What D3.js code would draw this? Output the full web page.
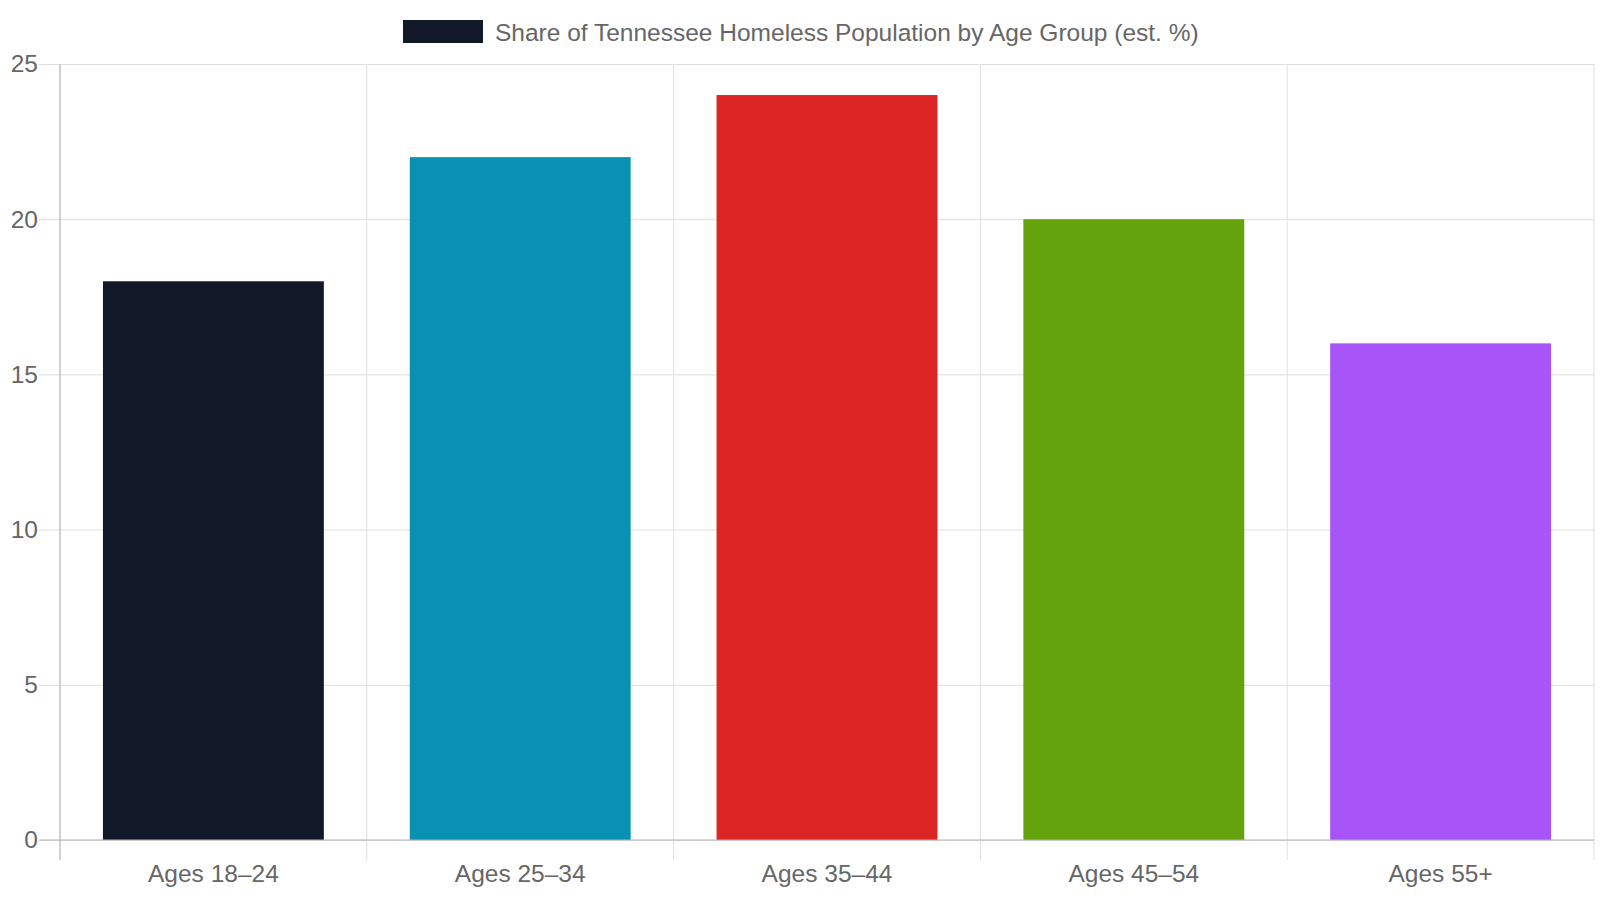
<!DOCTYPE html>
<html>
<head>
<meta charset="utf-8">
<script src="https://cdn.jsdelivr.net/npm/d3@7"></script>
<style>
  html, body { margin: 0; padding: 0; background: #fff; }
  svg { display: block; font-family: 'Liberation Sans', Arial, sans-serif; }
</style>
</head>
<body>
<div id="chart"></div>
<script>
const categories = ['Ages 18–24', 'Ages 25–34', 'Ages 35–44', 'Ages 45–54', 'Ages 55+'];
const values = [18, 22, 24, 20, 16];
const barColors = ['#111827', '#0891b2', '#dc2626', '#65a30d', '#a855f7'];
const yTicks = [0, 5, 10, 15, 20, 25];
const seriesLabel = 'Share of Tennessee Homeless Population by Age Group (est. %)';

const svgWidth = 1600;
const svgHeight = 900;
const margin = {top: 64, right: 6, bottom: 60, left: 60};
const width = svgWidth - margin.left - margin.right;
const height = svgHeight - margin.top - margin.bottom;
const textColor = '#666';
const gridColor = '#dfdfdf';
const axisColor = '#b3b3b3';
const fontSize = '24.5px';

const svg = d3.select('#chart').append('svg')
  .attr('width', svgWidth)
  .attr('height', svgHeight);

const g = svg.append('g')
  .attr('transform', `translate(${margin.left},${margin.top})`);

const xScale = d3.scaleBand()
  .domain(categories)
  .range([0, width]);

const yScale = d3.scaleLinear()
  .domain([0, 25])
  .range([height, 0]);

// horizontal grid + y ticks
const yAxis = d3.axisLeft(yScale)
  .tickValues(yTicks)
  .tickSize(-width)
  .tickPadding(2);
const yg = g.append('g').call(yAxis);
yg.select('.domain').remove();
yg.selectAll('.tick line')
  .attr('stroke', gridColor)
  .attr('x1', -21);
yg.selectAll('.tick text')
  .attr('x', -22)
  .attr('fill', textColor)
  .style('font-size', fontSize)
  .style('font-family', "'Liberation Sans', Arial, sans-serif");

// vertical grid lines on category boundaries
const bounds = categories.map(c => xScale(c)).concat([width]);
g.append('g').selectAll('line')
  .data(bounds)
  .enter().append('line')
  .attr('x1', d => d).attr('x2', d => d)
  .attr('y1', 0).attr('y2', height + 20)
  .attr('stroke', gridColor);

// bars
const inner = 0.72;
g.selectAll('.bar')
  .data(values)
  .enter().append('rect')
  .attr('class', 'bar')
  .attr('x', (d, i) => xScale(categories[i]) + xScale.bandwidth() * (1 - inner) / 2)
  .attr('width', xScale.bandwidth() * inner)
  .attr('y', d => yScale(d))
  .attr('height', d => height - yScale(d))
  .attr('fill', (d, i) => barColors[i]);

// axis lines
g.append('line')
  .attr('x1', -21).attr('x2', width)
  .attr('y1', height).attr('y2', height)
  .attr('stroke', axisColor);
g.append('line')
  .attr('x1', 0).attr('x2', 0)
  .attr('y1', 0).attr('y2', height + 20)
  .attr('stroke', axisColor);

// x labels
const xAxis = d3.axisBottom(xScale).tickSize(0).tickPadding(0);
const xg = g.append('g')
  .attr('transform', `translate(0,${height})`)
  .call(xAxis);
xg.select('.domain').remove();
xg.selectAll('.tick text')
  .attr('y', 42)
  .attr('dy', 0)
  .attr('fill', textColor)
  .style('font-size', fontSize)
  .style('font-family', "'Liberation Sans', Arial, sans-serif");

// legend
const legend = svg.append('g');
legend.append('text')
  .attr('x', 495)
  .attr('y', 41)
  .attr('fill', textColor)
  .style('font-size', fontSize)
  .text(seriesLabel);
legend.append('rect')
  .attr('x', 403)
  .attr('y', 20)
  .attr('width', 80)
  .attr('height', 23)
  .attr('fill', barColors[0]);
</script>
</body>
</html>
